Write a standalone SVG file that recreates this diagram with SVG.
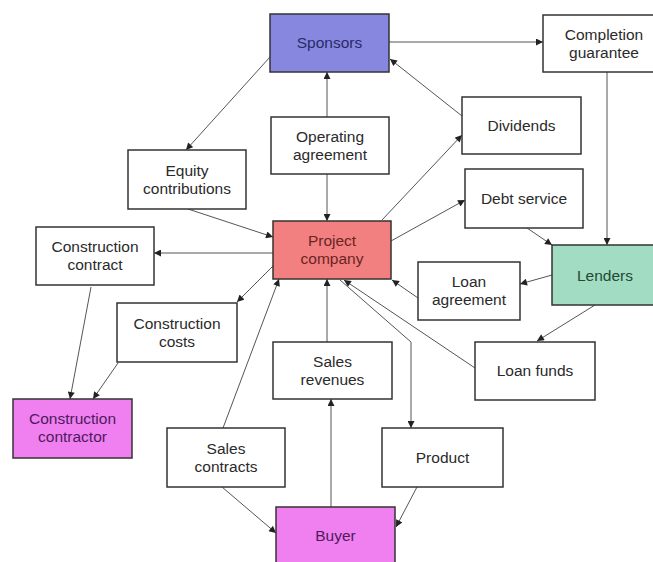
<svg xmlns="http://www.w3.org/2000/svg" width="653" height="562" viewBox="0 0 653 562">
<defs>
<marker id="ah" viewBox="0 0 10 10" refX="10" refY="5" markerWidth="8" markerHeight="7" markerUnits="userSpaceOnUse" orient="auto">
<path d="M0,0 L10,5 L0,10 z" fill="#222"/>
</marker>
</defs>
<style>
.box{fill:#fff;stroke:#333;stroke-width:1.5}
.sp{fill:#8787e0}
.pc{fill:#f28080}
.ld{fill:#a2dcc2}
.mg{fill:#f080f0}
text{font-family:"Liberation Sans",Arial,sans-serif;font-size:15.5px;fill:#2a2a2a;text-anchor:middle}
.tsp{fill:#2a2a66}
.tpc{fill:#6a2424}
.tld{fill:#1e4a36}
.tmg{fill:#4e1a5e}
.c line,.c polyline{stroke:#555;stroke-width:1;fill:none;marker-end:url(#ah)}
</style>
<rect width="653" height="562" fill="#fff"/>
<g class="c" id="connectors">
<line x1="270" y1="57" x2="186" y2="150"/>
<line x1="327" y1="117" x2="327" y2="72"/>
<line x1="327" y1="174" x2="327" y2="221"/>
<line x1="389" y1="42" x2="543" y2="42"/>
<line x1="462" y1="116" x2="390" y2="59"/>
<line x1="382" y1="220" x2="462" y2="135"/>
<line x1="391" y1="241" x2="465" y2="200"/>
<line x1="527" y1="228" x2="552" y2="245"/>
<line x1="607" y1="72" x2="607" y2="245"/>
<line x1="552" y1="275" x2="520" y2="284"/>
<line x1="418" y1="298" x2="392" y2="280"/>
<line x1="595" y1="305" x2="537" y2="341"/>
<line x1="475" y1="368" x2="344" y2="280"/>
<polyline points="340,280 411,342 411,428"/>
<line x1="417" y1="487" x2="396" y2="527"/>
<line x1="331" y1="507" x2="331" y2="399"/>
<line x1="327" y1="342" x2="327" y2="279"/>
<line x1="223" y1="428" x2="279" y2="279"/>
<line x1="222" y1="487" x2="276" y2="533"/>
<line x1="273" y1="266" x2="237" y2="302"/>
<line x1="273" y1="253" x2="154" y2="253"/>
<line x1="188" y1="209" x2="273" y2="237"/>
<line x1="91" y1="287" x2="70" y2="399"/>
<line x1="118" y1="363" x2="93" y2="399"/>
</g>
<g id="sponsors"><rect class="box sp" x="270" y="14" width="119" height="58"/><text class="tsp" x="329.5" y="48">Sponsors</text></g>
<g id="completion-guarantee"><rect class="box" x="543" y="15" width="122" height="57"/><text x="604" y="40">Completion</text><text x="604" y="58">guarantee</text></g>
<g id="operating-agreement"><rect class="box" x="271" y="117" width="118" height="57"/><text x="330" y="142">Operating</text><text x="330" y="160">agreement</text></g>
<g id="dividends"><rect class="box" x="462" y="97" width="119" height="57"/><text x="521.5" y="131">Dividends</text></g>
<g id="equity-contributions"><rect class="box" x="128" y="150" width="118" height="59"/><text x="187" y="176">Equity</text><text x="187" y="194">contributions</text></g>
<g id="debt-service"><rect class="box" x="465" y="169" width="118" height="59"/><text x="524" y="204">Debt service</text></g>
<g id="project-company"><rect class="box pc" x="273" y="221" width="118" height="58"/><text class="tpc" x="332" y="246">Project</text><text class="tpc" x="332" y="264">company</text></g>
<g id="construction-contract"><rect class="box" x="36" y="227" width="118" height="58"/><text x="95" y="252">Construction</text><text x="95" y="270">contract</text></g>
<g id="lenders"><rect class="box ld" x="552" y="245" width="112" height="60"/><text class="tld" x="605" y="281">Lenders</text></g>
<g id="loan-agreement"><rect class="box" x="418" y="262" width="102" height="58"/><text x="469" y="287">Loan</text><text x="469" y="305">agreement</text></g>
<g id="construction-costs"><rect class="box" x="117" y="303" width="120" height="59"/><text x="177" y="329">Construction</text><text x="177" y="347">costs</text></g>
<g id="sales-revenues"><rect class="box" x="273" y="342" width="119" height="57"/><text x="332.5" y="367">Sales</text><text x="332.5" y="385">revenues</text></g>
<g id="loan-funds"><rect class="box" x="475" y="342" width="120" height="58"/><text x="535" y="376">Loan funds</text></g>
<g id="construction-contractor"><rect class="box mg" x="13" y="399" width="119" height="59"/><text class="tmg" x="72.5" y="424">Construction</text><text class="tmg" x="72.5" y="442">contractor</text></g>
<g id="sales-contracts"><rect class="box" x="167" y="428" width="118" height="59"/><text x="226" y="454">Sales</text><text x="226" y="472">contracts</text></g>
<g id="product"><rect class="box" x="382" y="428" width="121" height="59"/><text x="442.5" y="463">Product</text></g>
<g id="buyer"><rect class="box mg" x="276" y="507" width="119" height="60"/><text class="tmg" x="335.5" y="541">Buyer</text></g>
</svg>
